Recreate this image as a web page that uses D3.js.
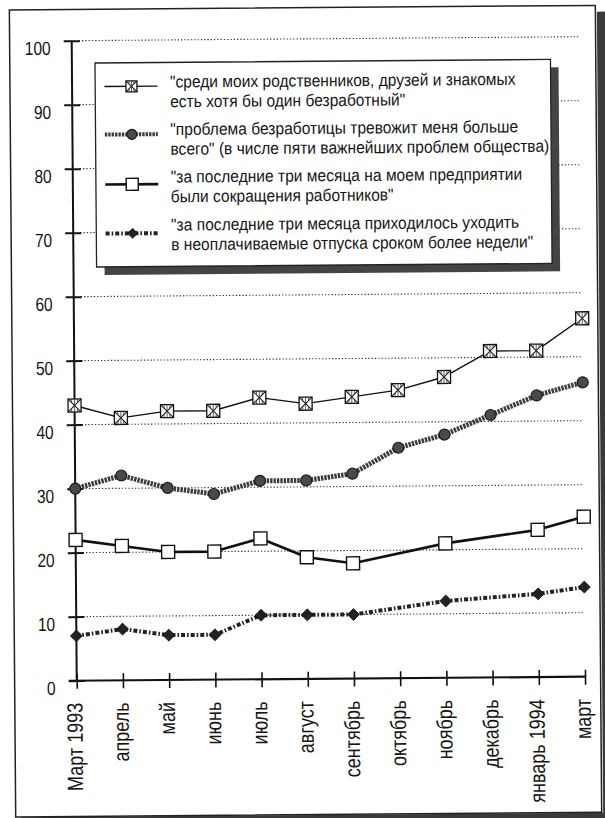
<!DOCTYPE html>
<html><head><meta charset="utf-8">
<script src="https://cdn.jsdelivr.net/npm/d3@7"></script>
<style>body{margin:0;background:#fff}svg{display:block}</style>
</head><body>
<svg id="c" width="605" height="818"></svg>
<script>
// ---- data ----
const categories = ["Март 1993","апрель","май","июнь","июль","август","сентябрь","октябрь","ноябрь","декабрь","январь 1994","март"];
const relatives   = [43,41,42,42,44,43,44,45,47,51,51,56];
const worry       = [30,32,30,29,31,31,32,36,38,41,44,46];
const layoffs     = [22,21,20,20,22,19,18,null,21,null,23,25];
const unpaidLeave = [7,8,7,7,10,10,10,null,12,null,13,14];
const yTicks = [0,10,20,30,40,50,60,70,80,90,100];
const legendLabels = [
  ['"среди моих родственников, друзей и знакомых','есть хотя бы один безработный"'],
  ['"проблема безработицы тревожит меня больше','всего" (в числе пяти важнейших проблем общества)'],
  ['"за последние три месяца на моем предприятии','были сокращения работников"'],
  ['"за последние три месяца приходилось уходить','в неоплачиваемые отпуска сроком более недели"']
];

// ---- font detection ----
function hasFont(f){
  const c=document.createElement('canvas').getContext('2d');
  const s='абвгдежзийклмнопрст 0123456789';
  c.font='40px monospace'; const w0=c.measureText(s).width;
  c.font='40px "'+f+'", monospace'; return Math.abs(c.measureText(s).width-w0)>0.5;
}
const NARROW = hasFont('Liberation Sans Narrow');
const FONT = NARROW ? '"Liberation Sans Narrow", sans-serif' : '"Liberation Sans", Arial, sans-serif';
const SX = NARROW ? 1 : 0.82;

const svg = d3.select('#c');
const root = svg.append('g').attr('transform','rotate(-0.45,302,409)');

function txt(g, s, x, y, size, anchor, rot, sx){
  return g.append('text')
    .attr('transform','translate('+x+','+y+')'+(rot?' rotate('+rot+')':'')+' scale('+(sx||SX)+',1)')
    .attr('font-family',FONT).attr('font-size',size).attr('fill','#151515')
    .attr('text-anchor',anchor||'start').text(s);
}

// ---- outer frame ----
root.append('rect').attr('x',600).attr('y',14).attr('width',10).attr('height',812).attr('fill','#3a3a3a');
root.append('rect').attr('x',18).attr('y',815).attr('width',590).attr('height',8).attr('fill','#3a3a3a');
root.append('rect').attr('x',12.5).attr('y',7.7).attr('width',586).attr('height',807)
  .attr('fill','none').attr('stroke','#222').attr('stroke-width',1.5);

// ---- scales ----
const x = d3.scalePoint().domain(categories).range([74.6,582.9]);
const y = d3.scaleLinear().domain([0,100]).range([678.9,38.9]);

// gridlines
root.append('g').selectAll('line').data(yTicks.filter(d=>d>0)).join('line')
  .attr('x1',x(categories[0])+7).attr('x2',x(categories[categories.length-1]))
  .attr('y1',d=>y(d)).attr('y2',d=>y(d))
  .attr('stroke','#333').attr('stroke-width',1.1).attr('stroke-dasharray','1.3,2');

// y axis
const ya = root.append('g').attr('transform','translate('+x(categories[0])+',0)')
  .call(d3.axisLeft(y).tickValues(yTicks).tickSize(8).tickFormat(''));
ya.select('.domain').remove();
ya.selectAll('.tick line').attr('x1',-8).attr('x2',8).attr('stroke','#111').attr('stroke-width',2);
root.append('line').attr('x1',x(categories[0])).attr('x2',x(categories[0]))
  .attr('y1',y(100)).attr('y2',y(0)+1).attr('stroke','#111').attr('stroke-width',2);
yTicks.forEach(t=>txt(root,String(t),53.5,y(t)+14,19,'end'));

// x axis
const xa = root.append('g').attr('transform','translate(0,'+y(0)+')')
  .call(d3.axisBottom(x).tickSize(8).tickFormat(''));
xa.select('.domain').remove();
xa.selectAll('.tick line').attr('y1',-7).attr('y2',8).attr('stroke','#111').attr('stroke-width',1.6);
root.append('line').attr('x1',x(categories[0])-8).attr('x2',x(categories[categories.length-1]))
  .attr('y1',y(0)).attr('y2',y(0)).attr('stroke','#111').attr('stroke-width',2.2);
categories.forEach(c=>txt(root,c,x(c)+5.5,701,22,'end',-90));

// ---- series ----
const styles = [
  {data:relatives, stroke:'#111', width:1.4, dash:null, marker:'xbox'},
  {data:worry, stroke:'#3c3c3c', width:5, dash:'2.4,1', marker:'circle'},
  {data:layoffs, stroke:'#111', width:2.6, dash:null, marker:'square'},
  {data:unpaidLeave, stroke:'#222', width:4, dash:'4,2,1.6,2', marker:'diamond'}
];

function drawMarker(g, type, cx, cy, s){
  const m = g.append('g').attr('transform','translate('+cx+','+cy+')');
  if(type==='xbox'){
    const h=s/2;
    m.append('rect').attr('x',-h).attr('y',-h).attr('width',s).attr('height',s)
      .attr('fill','#fff').attr('stroke','#111').attr('stroke-width',1.3);
    m.append('path').attr('d','M'+(-h)+','+(-h)+'L'+h+','+h+'M'+h+','+(-h)+'L'+(-h)+','+h)
      .attr('stroke','#111').attr('stroke-width',1);
    const q=h*0.45;
    m.append('path').attr('d','M0,'+(-h)+'V'+h+'M'+(-q)+','+(-h)+'V'+(-q)+'M'+q+','+(-h)+'V'+(-q)+'M'+(-q)+','+h+'V'+q+'M'+q+','+h+'V'+q)
      .attr('stroke','#333').attr('stroke-width',0.8);
  } else if(type==='circle'){
    m.append('circle').attr('r',s/2).attr('fill','#4a4a4a').attr('stroke','#1a1a1a').attr('stroke-width',1.2);
  } else if(type==='square'){
    const h=s/2;
    m.append('rect').attr('x',-h).attr('y',-h).attr('width',s).attr('height',s)
      .attr('fill','#fff').attr('stroke','#111').attr('stroke-width',1.4);
  } else {
    const h=s/2;
    m.append('path').attr('d','M0,'+(-h)+'L'+h+',0L0,'+h+'L'+(-h)+',0Z').attr('fill','#222').attr('stroke','#111').attr('stroke-width',0.8);
  }
}
const sizes = {xbox:13, circle:11, square:13, diamond:12};

styles.forEach(st=>{
  const pts = categories.map((c,i)=>({c, v:st.data[i]})).filter(p=>p.v!==null);
  const line = d3.line().x(p=>x(p.c)).y(p=>y(p.v));
  root.append('path').attr('d',line(pts)).attr('fill','none')
    .attr('stroke',st.stroke).attr('stroke-width',st.width)
    .attr('stroke-dasharray',st.dash).attr('stroke-linejoin','round');
});
styles.forEach(st=>{
  const pts = categories.map((c,i)=>({c, v:st.data[i]})).filter(p=>p.v!==null);
  pts.forEach(p=>drawMarker(root, st.marker, x(p.c), y(p.v), sizes[st.marker]));
});

// ---- legend ----
const lg = root.append('g');
const L = {x:97.7, y:61.4, w:455.5, h:204};
lg.append('rect').attr('x',L.x+8).attr('y',L.y+8).attr('width',L.w).attr('height',L.h).attr('fill','#444');
lg.append('rect').attr('x',L.x).attr('y',L.y).attr('width',L.w).attr('height',L.h)
  .attr('fill','#fff').attr('stroke','#222').attr('stroke-width',1.3);
const rows = [85,133,183,232];
const textTop = [86.5,134,181.5,229.5];
const LSX = SX*19/17;
styles.forEach((st,i)=>{
  const ry = rows[i];
  lg.append('line').attr('x1',107).attr('x2',160).attr('y1',ry).attr('y2',ry)
    .attr('stroke',st.stroke).attr('stroke-width',st.width===5?4:st.width)
    .attr('stroke-dasharray',st.dash);
  drawMarker(lg, st.marker, 134, ry, st.marker==='xbox'?11:(st.marker==='square'?12:10));
  txt(lg, legendLabels[i][0], 172.5, textTop[i], 17, 'start', 0, LSX);
  txt(lg, legendLabels[i][1], 172.5, textTop[i]+19.7, 17, 'start', 0, LSX);
});
</script>
</body></html>
